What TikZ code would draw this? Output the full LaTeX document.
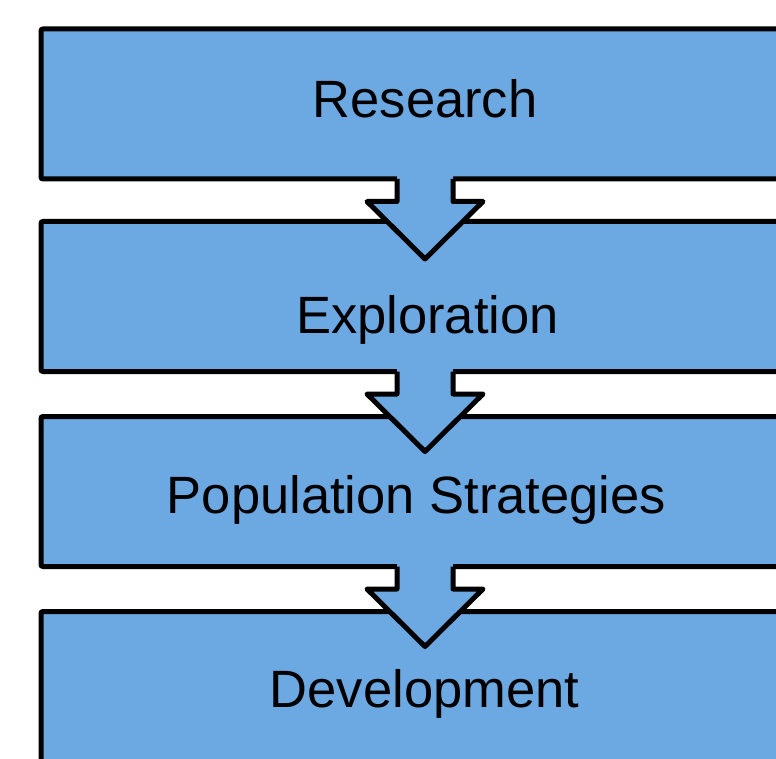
\documentclass[tikz,border=0pt]{standalone}
\usepackage{fontspec}
\setmainfont{Liberation Sans}
\usetikzlibrary{calc}
\definecolor{stageblue}{RGB}{108,168,225}

\begin{document}
\begin{tikzpicture}[x=1pt,y=-1pt,
  stage/.style={draw=black, fill=stageblue, line width=5pt, rounded corners=2pt,
    minimum width=768pt, minimum height=150pt, inner sep=0pt, outer sep=0pt},
  stagelabel/.style={anchor=base, inner sep=0pt, font=\fontsize{52.5pt}{60pt}\selectfont}]

  \newcommand\flow[1]{%
    \fill[stageblue] ($(#1.south)+(-28,-3)$) -- ++(0,25.5) -- ++(-30,0) -- ++(58,57.5)
      -- ++(58,-57.5) -- ++(-30,0) -- ++(0,-25.5) -- cycle;
    \draw[line width=5pt, line join=round] ($(#1.south)+(-28,0)$) -- ++(0,22.5) -- ++(-30,0)
      -- ++(58,57.5) -- ++(58,-57.5) -- ++(-30,0) -- ++(0,-22.5);}

  \clip (0,0) rectangle (776,759);

  \node[stage] (research) at (425,104) {};
  \node[stage] (exploration) at (425,296.5) {};
  \flow{research}
  \node[stage] (population) at (425,491.5) {};
  \flow{exploration}
  \node[stage] (development) at (425,686.5) {};
  \flow{population}

  \node[stagelabel] (researchlabel) at (425,117.7) {Research};
  \node[stagelabel] (explorationlabel) at (427.5,333.3) {Exploration};
  \node[stagelabel] (populationlabel) at (416.5,513.3) {Population Strategies};
  \node[stagelabel] (developmentlabel) at (424.5,707.7) {Development};

\end{tikzpicture}
\end{document}
